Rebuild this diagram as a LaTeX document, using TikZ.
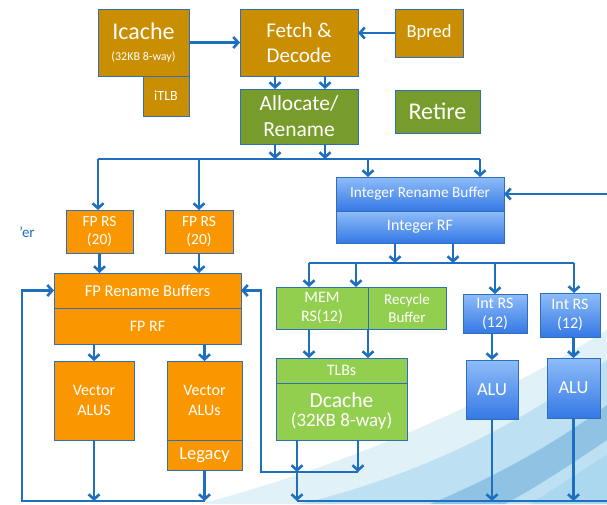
\documentclass[tikz,border=0pt]{standalone}
\usepackage{fontspec}
\setmainfont{Carlito}
\usetikzlibrary{arrows.meta}
\definecolor{gold}{HTML}{C98E02}
\definecolor{olive}{HTML}{789C2C}
\definecolor{fporange}{HTML}{FA9700}
\definecolor{lgreen}{HTML}{92CF4E}
\definecolor{btop}{HTML}{8EBCF8}
\definecolor{bbot}{HTML}{3579E6}
\definecolor{wire}{HTML}{1F6FC0}
\definecolor{edge}{HTML}{2E6FB8}
\definecolor{wave1}{HTML}{DDF0F8}
\definecolor{wave2}{HTML}{A6D6EE}
\definecolor{wave3}{HTML}{3E8FC8}
\newcommand\bx[7]{\node[#6, minimum width={#4pt-#2pt}, minimum height={#5pt-#3pt}] (#1) at ({(#2+#4)/2},{(#3+#5)/2}) {#7};}
\begin{document}
\begin{tikzpicture}[x=1pt,y=-1pt,
  box/.style={draw=edge, line width=0.9pt, inner sep=0pt, outer sep=0pt, text=white, align=center},
  goldbox/.style={box, fill=gold},
  olivebox/.style={box, fill=olive},
  orangebox/.style={box, fill=fporange},
  greenbox/.style={box, fill=lgreen},
  bluebox/.style={box, top color=btop, bottom color=bbot},
  wireline/.style={draw=wire, line width=2.6pt},
  arr/.style={wireline, -{Straight Barb[length=5pt,width=11pt]}},
  f/.style 2 args={font=\fontsize{#1}{#2}\selectfont}
]
\useasboundingbox (0,0) rectangle (607,504);
\fill[white] (0,0) rectangle (607,504);
% background wave
\fill[wave1, opacity=0.9] (200,504) .. controls (330,470) and (480,410) .. (607,330) -- (607,504) -- cycle;
\fill[wave2, opacity=0.6] (300,504) .. controls (420,475) and (520,425) .. (607,360) -- (607,504) -- cycle;
\fill[wave3, opacity=0.35] (430,504) .. controls (500,475) and (560,440) .. (607,405) -- (607,440) .. controls (570,465) and (535,488) .. (505,504) -- cycle;
\fill[wave2, opacity=0.7] (530,504) .. controls (565,482) and (590,465) .. (607,455) -- (607,504) -- cycle;

% boxes
\bx{icache}{98}{9}{189}{76}{goldbox}{{\fontsize{24}{26}\selectfont Icache}\\[9pt]{\fontsize{12}{14}\selectfont (32KB 8-way)}}
\bx{itlb}{143}{76}{189}{116}{goldbox,f={14}{17}}{iTLB}
\bx{fetch}{240}{9}{358}{76}{goldbox,f={21}{25}}{Fetch \&\\Decode}
\bx{bpred}{395}{9}{463}{57}{goldbox,f={18.5}{22}}{Bpred}
\bx{alloc}{240}{89}{358}{144}{olivebox,f={21.5}{26}}{Allocate/\\Rename}
\bx{retire}{395}{90}{480}{133}{olivebox,f={24}{28}}{Retire}
\bx{fprs1}{66}{210}{133}{253}{orangebox,f={15.5}{18.5}}{FP RS\\(20)}
\bx{fprs2}{165}{210}{233}{253}{orangebox,f={15.5}{18.5}}{FP RS\\(20)}
\bx{fprb}{54}{273}{241}{308}{orangebox,f={16.5}{20}}{FP Rename Buffers}
\bx{fprf}{54}{308}{241}{344}{orangebox,f={16}{19}}{FP RF}
\bx{vec1}{54}{361}{134}{440}{orangebox,f={16}{20}}{Vector\\ALUS}
\bx{vec2}{167}{361}{242}{440}{orangebox,f={16}{20}}{Vector\\ALUs}
\bx{legacy}{167}{440}{242}{470}{orangebox,f={18.5}{22}}{Legacy}
\bx{irb}{336}{177}{504}{211}{bluebox,f={15.3}{18}}{Integer Rename Buffer}
\bx{irf}{336}{211}{504}{243}{bluebox,f={16}{19}}{Integer RF}
\bx{mem}{276}{287}{368}{329}{greenbox,f={16}{19}}{MEM\\RS(12)}
\bx{recyc}{368}{287}{446}{329}{greenbox,f={15}{18}}{Recycle\\Buffer}
\bx{tlbs}{276}{358}{407}{383}{greenbox,f={16}{19}}{TLBs}
\bx{dc}{276}{383}{407}{440}{greenbox}{{\fontsize{21.5}{24}\selectfont Dcache}\\[4pt]{\fontsize{19}{21}\selectfont (32KB 8-way)}}
\bx{intrs1}{463}{294}{527}{333}{bluebox,f={16}{19}}{Int RS\\(12)}
\bx{intrs2}{540}{293}{600}{337}{bluebox,f={16}{19}}{Int RS\\(12)}
\bx{alu1}{466}{360}{518}{419}{bluebox,f={18.5}{22}}{ALU}
\bx{alu2}{547}{358}{600}{418}{bluebox,f={18.5}{22}}{ALU}
\node[text=wire, f={15}{18}, inner sep=0pt] (frag) at (27,232) {'er};

% coordinates
\coordinate (busT) at (98,159);
\coordinate (busTR) at (480,159);
\coordinate (busM) at (309,263);
\coordinate (busMR) at (574,263);
\coordinate (busB) at (22,501);
\coordinate (loop) at (261,472);
\coordinate (edgeR) at (607,194);
\coordinate (edgeB) at (607,501);

% front end
\draw[arr] (icache.east) -- (fetch.west);
\draw[arr] (bpred.west) -- (bpred.west -| fetch.east);
\draw[arr] ([xshift=-24pt]fetch.south) -- ([xshift=-24pt]alloc.north);
\draw[arr] ([xshift=26pt]fetch.south) -- ([xshift=26pt]alloc.north);
\draw[arr] ([xshift=-24pt]alloc.south) -- ([xshift=-24pt]alloc.south |- busT);
\draw[arr] ([xshift=26pt]alloc.south) -- ([xshift=26pt]alloc.south |- busT);

% top bus
\draw[wireline] (busT) -- (busTR);
\draw[arr] (busT) -- (busT |- fprs1.north);
\draw[arr] (fprs2.north |- busT) -- (fprs2.north);
\draw[arr] ([xshift=-52pt]irb.north |- busT) -- ([xshift=-52pt]irb.north);
\draw[arr] (busTR) -- (busTR |- irb.north);

% FP
\draw[arr] (fprs1.south) -- (fprs1.south |- fprb.north);
\draw[arr] (fprs2.south) -- (fprs2.south |- fprb.north);
\draw[arr] (vec1.north |- fprf.south) -- (vec1.north);
\draw[arr] (vec2.north |- fprf.south) -- (vec2.north);
\draw[arr] (vec1.south) -- (vec1.south |- busB);
\draw[arr] (legacy.south) -- (legacy.south |- busB);
\draw[arr] (legacy.south |- busB) -- (busB) -- (busB |- fprb.west) -- (fprb.west);

% integer
\draw[arr] ([xshift=-25pt]irf.south) -- ([xshift=-25pt]irf.south |- busM);
\draw[arr] ([xshift=33pt]irf.south) -- ([xshift=33pt]irf.south |- busM);
\draw[wireline] (busM) -- (busMR);
\draw[arr] (busM) -- (busM |- mem.north);
\draw[arr] ([xshift=34pt]mem.north |- busM) -- ([xshift=34pt]mem.north);
\draw[arr] (intrs1.north |- busM) -- (intrs1.north);
\draw[arr] (busMR) -- (busMR |- intrs2.north);
\draw[arr] (alu1.north |- intrs1.south) -- (alu1.north);
\draw[arr] (alu2.north |- intrs2.south) -- (alu2.north);

% memory
\draw[arr] ([xshift=-13pt]mem.south) -- ([xshift=-13pt]mem.south |- tlbs.north);
\draw[arr] (mem.south east) -- (mem.south east |- tlbs.north);
\draw[arr] ([xshift=16.5pt]dc.south) -- ([xshift=16.5pt]dc.south |- loop);
\draw[arr] ([xshift=-44.5pt]dc.south) -- ([xshift=-44.5pt]dc.south |- loop);
\draw[arr] ([xshift=16.5pt]dc.south |- loop) -- (loop) -- (loop |- fprb.east) -- (fprb.east);
\draw[arr] ([xshift=-44.5pt]dc.south |- loop) -- ([xshift=-44.5pt]dc.south |- edgeB);

% bottom right bus and feedback
\draw[wireline] ([xshift=-44.5pt]dc.south |- edgeB) -- (edgeB);
\draw[arr] (alu1.south) -- (alu1.south |- edgeB);
\draw[arr] (alu2.south) -- (alu2.south |- edgeB);
\draw[arr] (edgeR) -- (irb.east);
\end{tikzpicture}
\end{document}
